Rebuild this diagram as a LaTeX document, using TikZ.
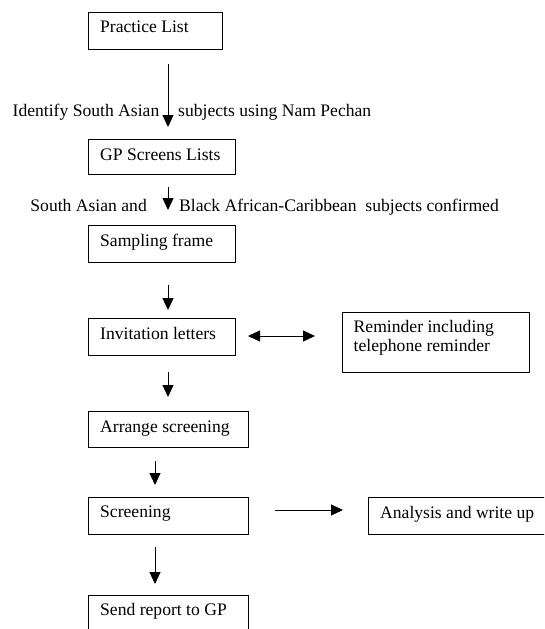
\documentclass[tikz,border=0pt]{standalone}
\usepackage{fontspec}
\setmainfont{Liberation Serif}
\usetikzlibrary{arrows.meta}
\begin{document}
\begin{tikzpicture}[x=1pt,y=-1pt,
  box/.style={draw=black,line width=0.9pt,rectangle,inner sep=0pt,anchor=north west},
  txt/.style={anchor=base west,inner sep=0pt,font=\fontsize{17.6}{19.5}\selectfont},
  conn/.style={line width=1pt,-{Triangle[length=12pt,width=11pt]}},
  dconn/.style={line width=1pt,{Triangle[length=12pt,width=11pt]}-{Triangle[length=12pt,width=11pt]}}]
\useasboundingbox (0,0) rectangle (544,629);
\clip (0,0) rectangle (544,629);
% boxes
\node[box,minimum width=134pt,minimum height=37pt] (pl) at (88,12) {};
\node[txt] (plt) at (100,32) {Practice List};
\node[box,minimum width=147pt,minimum height=35pt] (gp) at (88,139) {};
\node[txt] (gpt) at (100,160) {GP Screens Lists};
\node[box,minimum width=147pt,minimum height=37pt] (sf) at (88,225) {};
\node[txt] (sft) at (100,246) {Sampling frame};
\node[box,minimum width=147pt,minimum height=37pt] (il) at (88,318) {};
\node[txt] (ilt) at (100,339) {Invitation letters};
\node[box,minimum width=187pt,minimum height=60pt] (rm) at (342,312) {};
\node[txt,align=left] (rmt) at (353.5,351.5) {Reminder including\\telephone reminder};
\node[box,minimum width=160pt,minimum height=36pt] (as) at (88,411) {};
\node[txt] (ast) at (100,432) {Arrange screening};
\node[box,minimum width=160pt,minimum height=37pt] (sc) at (88,497) {};
\node[txt] (sct) at (100,517) {Screening};
\node[box,minimum width=200pt,minimum height=37pt] (an) at (368,497) {};
\node[txt] (ant) at (380,518) {Analysis and write up};
\node[box,minimum width=160pt,minimum height=60pt] (sr) at (88,595) {};
\node[txt] (srt) at (100,615) {Send report to GP};
% labels
\node[txt,anchor=base east] (l1a) at (159.5,116) {Identify South Asian};
\node[txt] (l1b) at (178,116) {subjects using Nam Pechan};
\node[txt,anchor=base east] (l2a) at (147,211) {South Asian and};
\node[txt] (l2b) at (179,211) {Black African-Caribbean\ \ subjects confirmed};
% connector end points
\coordinate (a1s) at (168,64);  \coordinate (a1e) at (168,127);
\coordinate (a2s) at (168,187); \coordinate (a2e) at (168,210);
\coordinate (a3s) at (168,285); \coordinate (a3e) at (168,310);
\coordinate (a4s) at (168,372); \coordinate (a4e) at (168,397);
\coordinate (a5s) at (155,461); \coordinate (a5e) at (155,485);
\coordinate (a6s) at (155,547); \coordinate (a6e) at (155,584);
\coordinate (dbs) at (248,336); \coordinate (dbe) at (315,336);
\coordinate (rts) at (275,510); \coordinate (rte) at (343,510);
\draw[conn] (a1s) -- (a1e);
\draw[conn] (a2s) -- (a2e);
\draw[conn] (a3s) -- (a3e);
\draw[conn] (a4s) -- (a4e);
\draw[conn] (a5s) -- (a5e);
\draw[conn] (a6s) -- (a6e);
\draw[dconn] (dbs) -- (dbe);
\draw[conn] (rts) -- (rte);
\end{tikzpicture}
\end{document}
